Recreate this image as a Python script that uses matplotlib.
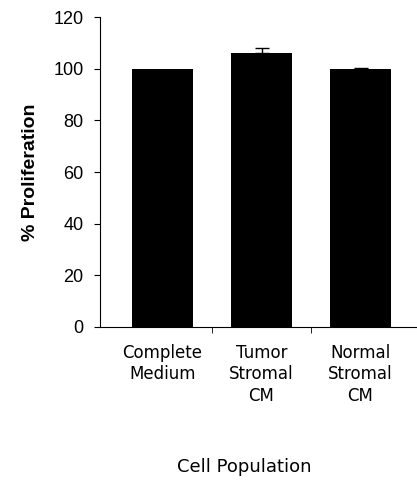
import matplotlib
matplotlib.use("Agg")
import matplotlib.pyplot as plt
import numpy as np

# data
categories = ["Complete\nMedium", "Tumor\nStromal\nCM", "Normal\nStromal\nCM"]
proliferation = [100, 106.2, 100]
errors = [0, 2.0, 0.4]
yticks = [0, 20, 40, 60, 80, 100, 120]

plt.rcParams['font.family'] = ['Liberation Sans', 'DejaVu Sans']

fig = plt.figure(figsize=(4.17, 4.88), dpi=100)
ax = fig.add_axes([0.24, 0.33, 0.76, 0.635])

x = np.arange(len(categories))
ax.bar(x, proliferation, width=0.62, color='black')
# only upward error bars, and only where there is an error
has_err = np.array(errors) > 0
ax.errorbar(x[has_err], np.array(proliferation)[has_err],
            yerr=[np.zeros(has_err.sum()), np.array(errors)[has_err]], fmt='none',
            ecolor='black', elinewidth=1, capsize=5, capthick=1)

ax.set_ylim(0, 120)
ax.set_xlim(-0.63, 2.57)
ax.set_yticks(yticks)
ax.tick_params(axis='y', direction='out', length=4, labelsize=13, pad=8)

# category labels at centres, tick marks at boundaries
ax.set_xticks(x)
ax.set_xticklabels(categories, fontsize=12, linespacing=1.25, va='top',
                   family=['DejaVu Sans'])
ax.tick_params(axis='x', which='major', length=0, pad=12)
ax.set_xticks([0.5, 1.5], minor=True)
ax.tick_params(axis='x', which='minor', direction='out', length=4)

for s in ['top', 'right']:
    ax.spines[s].set_visible(False)

ax.set_ylabel('% Proliferation', fontsize=14, fontweight='bold', labelpad=10)
fig.text(0.585, 0.033, 'Cell Population', ha='center', fontsize=13,
         family=['DejaVu Sans'])

fig.savefig('out.png', dpi=100)
